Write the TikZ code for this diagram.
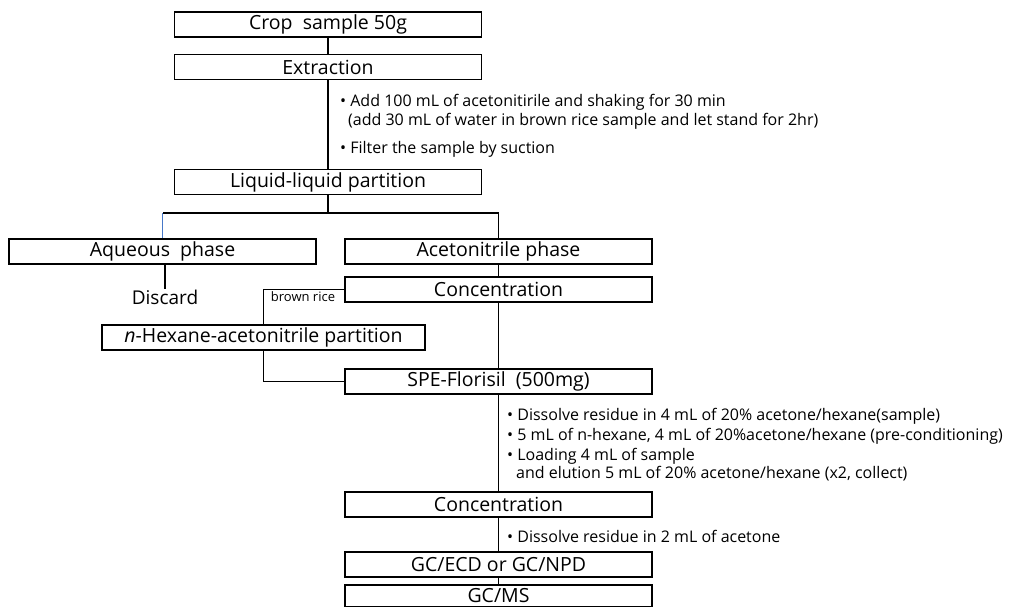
\documentclass[tikz,border=0pt]{standalone}
\usepackage{fontspec}
\setmainfont{Open Sans}
\begin{document}
\begin{tikzpicture}[x=1pt,y=-1pt,
  stepbox/.style={draw, line width=1.3pt, minimum width=307pt, minimum height=25pt, inner sep=0pt, font=\fontsize{19.5}{21}\selectfont},
  conn/.style={line width=1.3pt},
  note/.style={anchor=west, inner sep=0pt, font=\fontsize{16}{18}\selectfont},
  small/.style={inner sep=0pt, font=\fontsize{13}{14}\selectfont}]
\useasboundingbox (0,0) rectangle (1012,606);
\node[stepbox] (crop) at (328,24.5) {Crop\ \ sample 50g};
\node[stepbox] (extr) at (328,67) {Extraction};
\node[stepbox] (llp) at (328,182) {Liquid-liquid partition};
\node[stepbox] (aq) at (162.5,251.5) {Aqueous\ \ phase};
\node[stepbox] (acn) at (498.5,251.5) {Acetonitrile phase};
\node[inner sep=0pt, font=\fontsize{19}{21}\selectfont] (disc) at (165,297) {Discard};
\node[stepbox] (conc1) at (498.5,289.5) {Concentration};
\node[stepbox, minimum width=323pt] (hex) at (263.5,337.5) {\textit{n}-Hexane-acetonitrile partition};
\node[stepbox] (spe) at (498.5,381.5) {SPE-Florisil\ \ (500mg)};
\node[stepbox] (conc2) at (498.5,504.5) {Concentration};
\node[stepbox] (gcecd) at (498.5,564.5) {GC/ECD or GC/NPD};
\node[stepbox, minimum height=22pt] (gcms) at (498.5,596) {GC/MS};
\coordinate (split) at (328,213);
\node[small] (br) at (303,297) {brown rice};
% notes
\node[note] (n1) at (340,102) {• Add 100 mL of acetonitirile and shaking for 30 min};
\node[note] (n1b) at (348,121) {(add 30 mL of water in brown rice sample and let stand for 2hr)};
\node[note] (n2) at (340,149) {• Filter the sample by suction};
\node[note] (n3) at (507,416) {• Dissolve residue in 4 mL of 20\% acetone/hexane(sample)};
\node[note] (n4) at (507,436) {• 5 mL of n-hexane, 4 mL of 20\%acetone/hexane (pre-conditioning)};
\node[note] (n5) at (507,456) {• Loading 4 mL of sample};
\node[note] (n5b) at (516,474) {and elution 5 mL of 20\% acetone/hexane (x2, collect)};
\node[note] (n6) at (507,536) {• Dissolve residue in 2 mL of acetone};
% connectors
\draw[conn] (crop) -- (extr);
\draw[conn] (extr) -- (llp);
\draw[conn] (llp) -- (split);
\draw[conn] (split) -| (acn.north);
\draw[conn] (split) -- (aq.north |- split);
\draw[line width=1.3pt, color={rgb,255:red,70;green,120;blue,200}] (aq.north |- split) -- (aq.north);
\draw[conn] (disc.north |- aq.south) -- (disc.north);
\draw[conn] (acn) -- (conc1);
\draw[conn] (conc1.west) -| (hex.north);
\draw[conn] (hex.south) |- (spe.west);
\draw[conn] (conc1) -- (spe);
\draw[conn] (spe) -- (conc2);
\draw[conn] (conc2) -- (gcecd);
\draw[conn] (gcecd) -- (gcms);
\end{tikzpicture}
\end{document}
